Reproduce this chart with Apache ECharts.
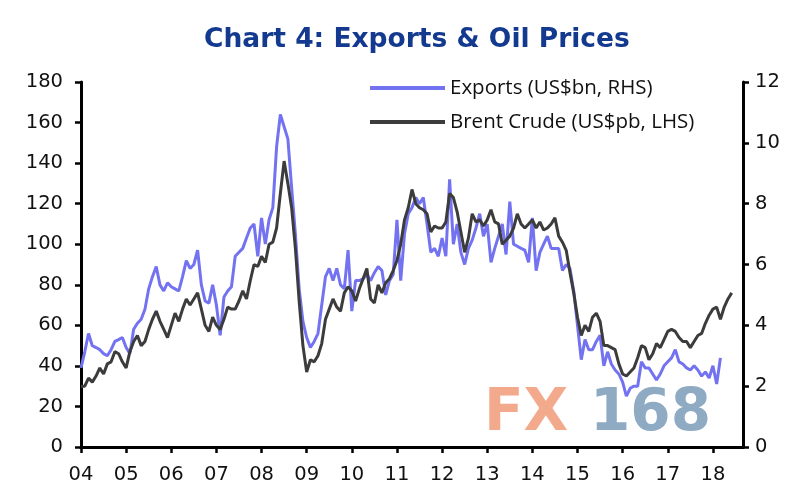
<!DOCTYPE html>
<html>
<head>
<meta charset="utf-8">
<script src="https://cdn.jsdelivr.net/npm/echarts@6/dist/echarts.min.js"></script>
<style>
html,body{margin:0;padding:0;background:#fff;}
#main{width:800px;height:503px;}
</style>
</head>
<body>
<div id="main"></div>
<script>
// monthly, starting Jan 2004
var startYear = 2004;
var yearTicks = ['04','05','06','07','08','09','10','11','12','13','14','15','16','17','18'];

// Brent crude, US$ per barrel (LHS)
var brent = [
 30,30,34,32,35,39,36,41,42,47,46,42,
 39,47,52,55,50,52,58,63,67,62,58,54,
 60,66,62,68,73,70,73,76,68,60,57,64,
 60,58,63,69,68,68,72,77,73,82,90,89,
 94,91,100,101,108,125,141,130,118,98,72,50,
 37,43,42,45,51,63,68,73,69,67,76,79,
 77,72,78,83,88,73,71,80,76,81,83,87,
 92,100,112,118,127,120,118,117,115,106,109,108,
 108,111,125,123,116,106,96,103,115,111,112,109,
 112,117,111,110,100,102,104,108,115,110,108,110,
 112,108,111,107,108,110,113,104,101,97,86,76,
 64,55,60,57,64,66,62,50,50,49,48,41,
 36,35,37,39,44,50,49,43,46,51,49,53,
 57,58,57,54,52,52,49,52,55,56,61,65,
 68,69,63,69,73,76
];

// Exports, US$bn (RHS)
var exportsBn = [
 2.60,3.13,3.73,3.33,3.27,3.20,3.07,3.00,3.20,3.47,3.53,3.60,
 3.27,3.07,3.87,4.07,4.20,4.53,5.20,5.60,5.93,5.33,5.13,5.40,
 5.27,5.20,5.13,5.60,6.13,5.87,6.00,6.47,5.33,4.80,4.73,5.33,
 4.67,3.67,4.93,5.13,5.27,6.27,6.40,6.53,6.87,7.20,7.33,6.27,
 7.53,6.67,7.47,7.87,9.87,10.93,10.53,10.13,8.53,7.00,5.20,4.13,
 3.60,3.27,3.47,3.73,4.67,5.60,5.87,5.47,5.87,5.33,5.20,6.47,
 4.47,5.47,5.47,5.53,5.67,5.47,5.73,5.93,5.80,5.00,5.47,5.67,
 7.47,5.47,7.00,7.67,7.87,8.20,8.00,8.20,7.33,6.40,6.53,6.27,
 6.87,6.27,8.80,6.67,7.33,6.40,6.00,6.53,6.80,7.20,7.67,6.93,
 7.33,6.07,6.53,6.93,7.33,6.33,8.07,6.67,6.60,6.53,6.47,6.07,
 7.53,5.80,6.40,6.67,6.93,6.53,6.53,6.53,5.80,6.00,5.87,5.13,
 4.00,2.87,3.53,3.20,3.20,3.47,3.67,2.67,3.13,2.73,2.53,2.40,
 2.13,1.67,1.93,2.00,2.00,2.80,2.60,2.60,2.40,2.20,2.40,2.67,
 2.80,2.93,3.20,2.80,2.73,2.60,2.53,2.67,2.53,2.33,2.47,2.27,
 2.67,2.07,2.93
];

var tickPos = [];
for (var i = 0; i < yearTicks.length; i++) tickPos.push(i * 12);

function toPts(arr){
	var out = [];
	for (var i = 0; i < arr.length; i++) out.push([i, arr[i]]);
	return out;
}

var font = 'DejaVu Sans';
var myChart = echarts.init(document.getElementById('main'));
var option = {
	animation: false,
	title: {
		text: 'Chart 4: Exports & Oil Prices',
		left: 199,
		top: 22,
		textStyle: {
			fontFamily: 'DejaVu Sans',
			fontWeight: 'bold',
			fontSize: 26.5,
			color: '#143a8f'
		}
	},
	legend: {
		orient: 'vertical',
		left: 370,
		top: 75,
		padding: 0,
		itemWidth: 75,
		itemHeight: 4,
		itemGap: 8,
		icon: 'rect',
		textStyle: {fontFamily: 'Open Sans', fontSize: 20.5, color: '#111', lineHeight: 26},
		data: ['Exports (US$bn, RHS)', 'Brent Crude (US$pb, LHS)']
	},
	grid: {left: 81, right: 57, top: 82, bottom: 56},
	xAxis: {
		type: 'value',
		min: 0,
		max: 176,
		splitLine: {show: false},
		axisLine: {lineStyle: {color: '#000', width: 3}},
		axisTick: {show: true, length: 6, lineStyle: {width: 2.5, color: '#000'}, customValues: tickPos},
		axisLabel: {
			customValues: tickPos,
			margin: 18,
			fontFamily: font,
			fontSize: 19.5,
			color: '#111',
			formatter: function(v){ return yearTicks[Math.round(v / 12)]; }
		}
	},
	yAxis: [
		{
			type: 'value', min: 0, max: 180, interval: 20,
			splitLine: {show: false},
			axisLine: {show: true, lineStyle: {color: '#000', width: 3}},
			axisTick: {show: true, length: 6, lineStyle: {width: 2.5, color: '#000'}},
			axisLabel: {margin: 18, fontFamily: font, fontSize: 19.5, color: '#111'}
		},
		{
			type: 'value', min: 0, max: 12, interval: 2,
			splitLine: {show: false},
			axisLine: {show: true, lineStyle: {color: '#000', width: 3}},
			axisTick: {show: true, length: 6, lineStyle: {width: 2.5, color: '#000'}},
			axisLabel: {margin: 12, fontFamily: font, fontSize: 19.5, color: '#111'}
		}
	],
	graphic: [
		{type: 'text', left: 484, top: 386, z: 0, style: {text: 'FX', fill: '#f3a98c', font: 'bold 58px DejaVu Sans'}},
		{type: 'text', left: 590, top: 386, z: 0, style: {text: '168', fill: '#8eabc3', font: 'bold 58px DejaVu Sans'}}
	],
	series: [
		{
			name: 'Exports (US$bn, RHS)',
			type: 'line',
			yAxisIndex: 1,
			showSymbol: false,
			z: 3,
			lineStyle: {color: '#7373f2', width: 3},
			itemStyle: {color: '#7373f2'},
			data: toPts(exportsBn)
		},
		{
			name: 'Brent Crude (US$pb, LHS)',
			type: 'line',
			yAxisIndex: 0,
			showSymbol: false,
			z: 4,
			lineStyle: {color: '#3c3c3c', width: 3},
			itemStyle: {color: '#3c3c3c'},
			data: toPts(brent)
		}
	]
};
myChart.setOption(option);
</script>
</body>
</html>
